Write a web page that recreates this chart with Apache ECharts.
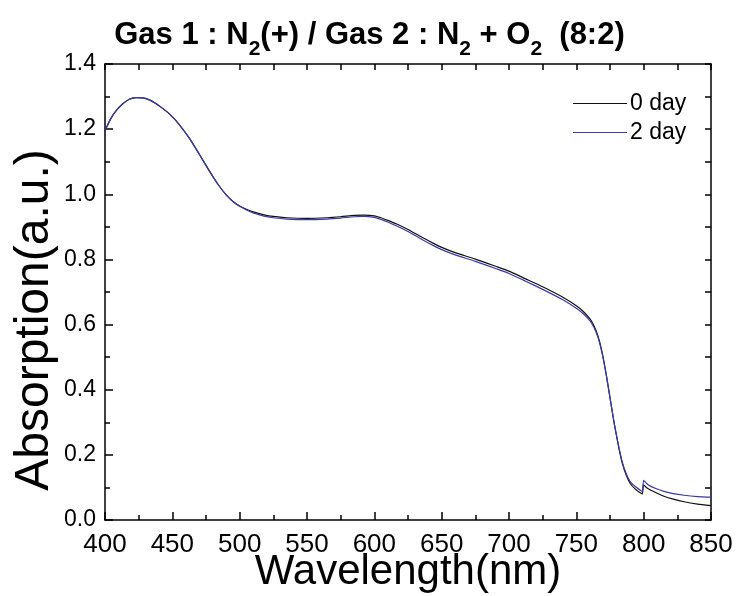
<!DOCTYPE html>
<html>
<head>
<meta charset="utf-8">
<script src="https://cdn.jsdelivr.net/npm/echarts@6/dist/echarts.min.js"></script>
<style>
html,body{margin:0;padding:0;background:#fff;}
#chart{width:739px;height:596px;}
</style>
</head>
<body>
<div id="chart"></div>
<script>
const wavelength = [400,404,408,413,418,423,428,433,438,443,448,455,463,470,477,484,490,495,500,505,
  510,518,525,535,550,565,575,585,592,600,605,610,617,625,635,645,650,660,675,690,700,712,725,740,750,755,760,
  763,766,769,772,775,778,781,784,787,790,794,798,799,800,802,805,810,815,822,830,840,850];
const day0 = [1.195,1.230,1.255,1.277,1.292,1.297,1.296,1.290,1.278,1.263,1.246,1.215,1.170,1.123,1.075,1.030,0.998,0.978,0.964,0.954,
  0.946,0.937,0.932,0.928,0.926,0.928,0.931,0.935,0.936,0.934,0.928,0.920,0.908,0.892,0.869,0.847,0.837,0.821,0.801,0.779,0.764,0.741,0.716,0.684,0.658,0.641,0.618,
  0.597,0.566,0.518,0.452,0.376,0.300,0.233,0.176,0.138,0.112,0.094,0.082,0.080,0.108,0.100,0.092,0.082,0.073,0.064,0.056,0.049,0.044];
const day2 = [1.195,1.230,1.255,1.277,1.292,1.297,1.296,1.290,1.278,1.263,1.246,1.215,1.170,1.123,1.075,1.030,0.998,0.978,0.963,0.952,
  0.943,0.933,0.928,0.924,0.922,0.924,0.927,0.931,0.932,0.929,0.923,0.915,0.902,0.886,0.862,0.840,0.830,0.814,0.794,0.772,0.757,0.734,0.708,0.676,0.650,0.634,0.612,
  0.592,0.562,0.515,0.450,0.375,0.300,0.235,0.180,0.143,0.118,0.102,0.090,0.088,0.122,0.113,0.104,0.095,0.088,0.081,0.076,0.072,0.070];
const seriesNames = ['0 day','2 day'];
const xTicks = [400,450,500,550,600,650,700,750,800,850];
const yTicks = [0.0,0.2,0.4,0.6,0.8,1.0,1.2,1.4];

const FONT = 'Liberation Sans, Arial, Helvetica, sans-serif';
const pair = (ys) => wavelength.map((x,i) => [x, ys[i]]);

const chart = echarts.init(document.getElementById('chart'));
const axisLine = {show:true, onZero:false, lineStyle:{color:'#000', width:1.5}};
chart.setOption({
  backgroundColor:'#fff',
  animation:false,
  title:{
    text:'Gas 1 : N{s|2}(+) / Gas 2 : N{s|2} + O{s|2}  (8:2)',
    left:'center', top:12,
    textStyle:{fontFamily:FONT, fontSize:31, fontWeight:'bold', color:'#000', lineHeight:36,
      rich:{s:{fontFamily:FONT, fontSize:21, fontWeight:'bold', color:'#000', verticalAlign:'top', lineHeight:10, padding:[22,0,0,0]}}}
  },
  legend:{
    data:seriesNames, orient:'vertical', left:573, top:92, padding:0,
    icon:'rect', itemWidth:54, itemHeight:1.2, itemGap:6,
    textStyle:{fontFamily:FONT, fontSize:23, color:'#000', padding:[0,0,0,-2], lineHeight:22}
  },
  grid:{left:105, right:28, top:64, bottom:76, containLabel:false, outerBoundsMode:'none'},
  xAxis:[{
    type:'value', min:xTicks[0], max:xTicks[xTicks.length-1], interval:50, position:'bottom',
    axisLine:axisLine,
    axisTick:{show:true, inside:true, length:8, lineStyle:{color:'#000', width:1.5}},
    minorTick:{show:true, splitNumber:2, length:5, lineStyle:{color:'#000', width:1.5}},
    splitLine:{show:false},
    axisLabel:{fontFamily:FONT, fontSize:26, color:'#000', margin:12},
    name:'Wavelength(nm)', nameLocation:'middle', nameGap:31, nameMoveOverlap:false,
    nameTextStyle:{fontFamily:FONT, fontSize:42, color:'#000'}
  },{
    type:'value', min:400, max:850, interval:25, position:'top',
    axisLine:axisLine,
    axisTick:{show:true, inside:true, length:6, lineStyle:{color:'#000', width:1.5}},
    splitLine:{show:false}, axisLabel:{show:false}
  }],
  yAxis:[{
    type:'value', min:yTicks[0], max:yTicks[yTicks.length-1], interval:0.2, position:'left',
    axisLine:axisLine,
    axisTick:{show:true, inside:true, length:8, lineStyle:{color:'#000', width:1.5}},
    minorTick:{show:true, splitNumber:2, length:5, lineStyle:{color:'#000', width:1.5}},
    splitLine:{show:false},
    axisLabel:{fontFamily:FONT, fontSize:23, color:'#000', margin:9, formatter:(v)=>v.toFixed(1)},
    name:'Absorption(a.u.)', nameLocation:'middle', nameGap:46, nameMoveOverlap:false,
    nameTextStyle:{fontFamily:FONT, fontSize:48, color:'#000', padding:[0,56,0,0]}
  },{
    type:'value', min:0, max:1.4, interval:0.1, position:'right',
    axisLine:axisLine,
    axisTick:{show:true, inside:true, length:6, lineStyle:{color:'#000', width:1.5}},
    splitLine:{show:false}, axisLabel:{show:false}
  }],
  series:[{
    name:seriesNames[0], type:'line', data:pair(day0), symbol:'none', smooth:0.2,
    lineStyle:{color:'#111', width:1.2}, itemStyle:{color:'#111'}
  },{
    name:seriesNames[1], type:'line', data:pair(day2), symbol:'none', smooth:0.2,
    lineStyle:{color:'#3a3aa8', width:1.2}, itemStyle:{color:'#3a3aa8'}
  }]
});
</script>
</body>
</html>
